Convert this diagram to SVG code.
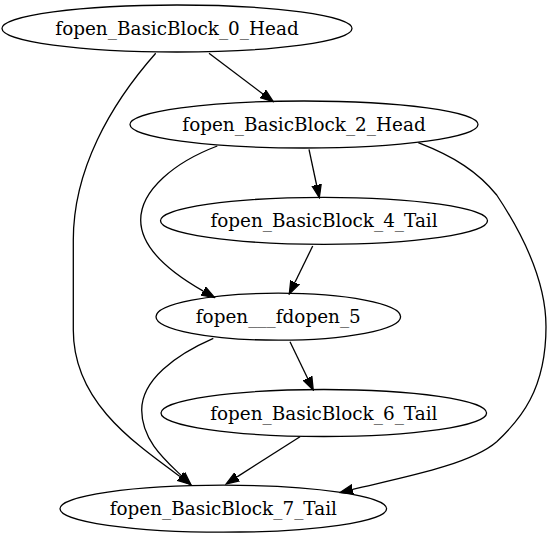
<svg xmlns="http://www.w3.org/2000/svg" width="552" height="539" viewBox="0 0 552 539">
  <style>
    .node ellipse { fill: none; stroke: #000; stroke-width: 1.3; }
    .node text { font-family: "DejaVu Serif", "Liberation Serif", serif; font-size: 18.4px; text-anchor: middle; fill: #000; }
    .edges path { fill: none; stroke: #000; stroke-width: 1.3; marker-end: url(#arrow); }
  </style>
  <defs>
    <marker id="arrow" markerUnits="userSpaceOnUse" markerWidth="14" markerHeight="11" viewBox="0 -5.5 14 11" refX="0" refY="0" orient="auto">
      <path d="M0,-4.7 L13,0 L0,4.7 z" fill="#000" stroke="#000" stroke-width="1.3"/>
    </marker>
  </defs>
  <rect width="552" height="539" fill="#fff"/>

  <g class="edges" id="edges">
    <!-- BB0 -> BB2 -->
    <path d="M209,53.3 L262.9,93.9"/>
    <!-- BB0 -> BB7 -->
    <path d="M155.7,53.3 C110,105 73.3,170 73.3,240 L73.3,330 C73.3,400 130,440 180.1,476.6"/>
    <!-- BB2 -> BB4 -->
    <path d="M309,149.3 L316.6,185"/>
    <!-- BB2 -> fdopen_5 -->
    <path d="M217.3,146 C175,162 140.7,190 140.7,220 C140.7,250 175,275 203.3,291.1"/>
    <!-- BB2 -> BB7 -->
    <path d="M418.3,142.7 C455,157 478,172 496.7,195 C530,245 546,290 546,326.7 C546,390 520,420 496.7,441.7 C470,465 400,478 352.7,489.4"/>
    <!-- BB4 -> fdopen_5 -->
    <path d="M312.7,246 L295,282.3"/>
    <!-- fdopen_5 -> BB6 -->
    <path d="M290,341.7 L307.6,378.3"/>
    <!-- fdopen_5 -> BB7 -->
    <path d="M213.3,338.3 C175,355 141.7,380 141.7,410 C141.7,440 165,460 181.5,475.8"/>
    <!-- BB6 -> BB7 -->
    <path d="M300,436.7 L237.1,476.9"/>
  </g>

  <g class="node" id="bb0">
    <ellipse cx="177" cy="28.5" rx="175" ry="23.5"/>
    <text x="177" y="35">fopen_BasicBlock_0_Head</text>
  </g>
  <g class="node" id="bb2">
    <ellipse cx="304" cy="124.5" rx="174" ry="23.5"/>
    <text x="304" y="131">fopen_BasicBlock_2_Head</text>
  </g>
  <g class="node" id="bb4">
    <ellipse cx="324" cy="220.8" rx="163.5" ry="23.5"/>
    <text x="324" y="227.3">fopen_BasicBlock_4_Tail</text>
  </g>
  <g class="node" id="fdopen5">
    <ellipse cx="278.3" cy="316.7" rx="122.3" ry="23.5"/>
    <text x="278.3" y="323.2">fopen___fdopen_5</text>
  </g>
  <g class="node" id="bb6">
    <ellipse cx="323.8" cy="413" rx="162.8" ry="23.5"/>
    <text x="323.8" y="419.5">fopen_BasicBlock_6_Tail</text>
  </g>
  <g class="node" id="bb7">
    <ellipse cx="223.3" cy="508.7" rx="163.3" ry="23.5"/>
    <text x="223.3" y="515.2">fopen_BasicBlock_7_Tail</text>
  </g>
</svg>
